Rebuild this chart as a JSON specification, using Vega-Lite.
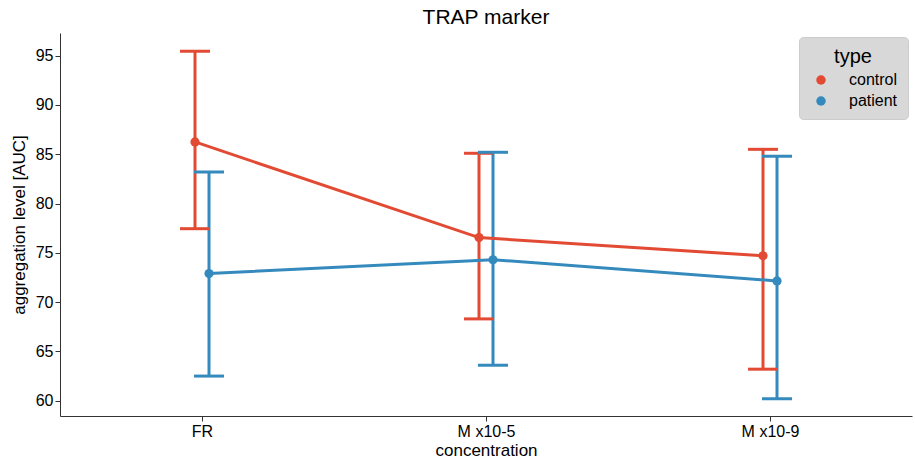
{
  "$schema": "https://vega.github.io/schema/vega-lite/v6.json",
  "width": 852,
  "height": 383,
  "autosize": {"type": "none"},
  "padding": {"left": 60, "top": 33, "right": 3, "bottom": 45},
  "background": "white",
  "title": {"text": "TRAP marker", "fontSize": 21, "font": "Liberation Sans", "fontWeight": "normal", "color": "black", "offset": 5},
  "config": {
    "view": {"stroke": null},
    "font": "Liberation Sans",
    "axis": {"labelFont": "Liberation Sans", "titleFont": "Liberation Sans", "labelFontSize": 16, "titleFontSize": 17, "titleFontWeight": "normal", "labelColor": "black", "titleColor": "black", "domainColor": "#333333", "tickColor": "#333333", "grid": false, "domainWidth": 1, "tickSize": 5}
  },
  "data": {"values": [
    {"concentration": "FR", "type": "control", "mean": 86.25, "lo": 77.45, "hi": 95.45},
    {"concentration": "FR", "type": "patient", "mean": 72.9, "lo": 62.5, "hi": 83.2},
    {"concentration": "M x10-5", "type": "control", "mean": 76.55, "lo": 68.3, "hi": 85.1},
    {"concentration": "M x10-5", "type": "patient", "mean": 74.3, "lo": 63.6, "hi": 85.2},
    {"concentration": "M x10-9", "type": "control", "mean": 74.7, "lo": 63.2, "hi": 85.5},
    {"concentration": "M x10-9", "type": "patient", "mean": 72.15, "lo": 60.2, "hi": 84.8}
  ]},
  "encoding": {
    "x": {"field": "concentration", "type": "nominal", "scale": {"type": "point", "padding": 0.5}, "axis": {"labelAngle": 0, "title": "concentration", "titlePadding": 3}},
    "xOffset": {"field": "type", "type": "nominal", "scale": {"type": "point", "range": [-7, 7], "padding": 0}},
    "color": {"field": "type", "type": "nominal", "scale": {"domain": ["control", "patient"], "range": ["#E24A33", "#348ABD"]}, "legend": {"title": "type", "orient": "top-right", "offset": 4, "fillColor": "#D8D8D8", "strokeColor": "#CCCCCC", "cornerRadius": 4, "padding": 10, "titleFontSize": 20, "titleFontWeight": "normal", "titleFont": "Liberation Sans", "titleAnchor": "middle", "titleColor": "black", "labelFontSize": 16, "labelFont": "Liberation Sans", "labelColor": "black", "symbolType": "circle", "symbolSize": 90, "symbolStrokeWidth": 0, "labelOffset": 20, "rowPadding": 5, "symbolOffset": 4}}
  },
  "layer": [
    {
      "mark": {"type": "rule", "strokeWidth": 3},
      "encoding": {
        "y": {"field": "lo", "type": "quantitative", "scale": {"domain": [58.45, 97.3], "nice": false, "zero": false}, "axis": {"values": [60, 65, 70, 75, 80, 85, 90, 95], "title": "aggregation level [AUC]", "titlePadding": 7}},
        "y2": {"field": "hi"}
      }
    },
    {
      "mark": {"type": "tick", "orient": "horizontal", "thickness": 3, "size": 30, "opacity": 1},
      "encoding": {"y": {"field": "lo", "type": "quantitative"}}
    },
    {
      "mark": {"type": "tick", "orient": "horizontal", "thickness": 3, "size": 30, "opacity": 1},
      "encoding": {"y": {"field": "hi", "type": "quantitative"}}
    },
    {
      "mark": {"type": "line", "strokeWidth": 3},
      "encoding": {"y": {"field": "mean", "type": "quantitative"}, "detail": {"field": "type"}}
    },
    {
      "mark": {"type": "point", "filled": true, "size": 85, "opacity": 1},
      "encoding": {"y": {"field": "mean", "type": "quantitative"}}
    }
  ]
}
